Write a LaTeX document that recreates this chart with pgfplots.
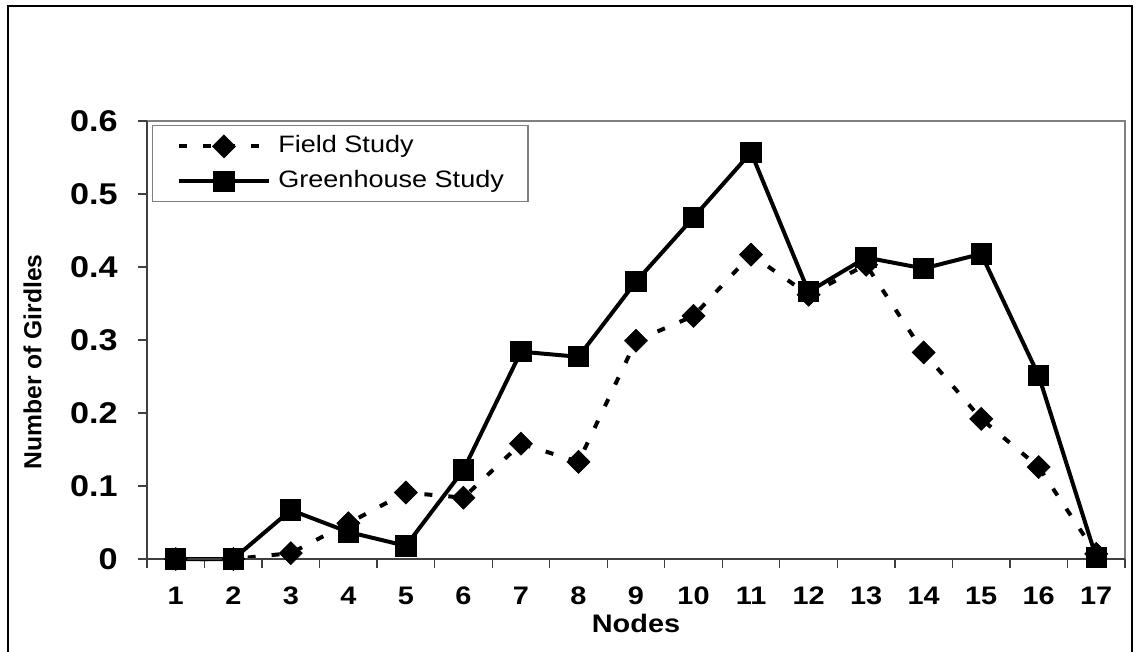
\documentclass[border=0pt]{standalone}
\usepackage{fontspec}
\setmainfont[FakeStretch=1.14]{Liberation Sans}
\newfontfamily\ylabfont{Liberation Sans}
\usepackage{pgfplots}
\pgfplotsset{compat=1.18}

\definecolor{axisgray}{HTML}{404040}
\definecolor{framegray}{HTML}{808080}

\begin{document}
\begin{tikzpicture}
  % 1 px of the 1138 x 651 reference = 0.75pt; axis box lower-left at origin
  \begin{axis}[
      at={(0pt,0pt)}, anchor=south west,
      scale only axis,
      width=733.5pt, height=328.5pt,
      xmin=0.5, xmax=17.5,
      ymin=0, ymax=0.6,
      clip=false,
      axis line style={draw=none},
      tick align=outside,
      major tick length=6.5pt,
      tick style={axisgray, line width=1pt},
      xtick pos=bottom, ytick pos=left,
      xtick={0.5,1.5,...,17.5},
      x tick label as interval,
      xticklabels={1,2,3,4,5,6,7,8,9,10,11,12,13,14,15,16,17},
      ytick={0,0.1,0.2,0.3,0.4,0.5,0.6},
      /pgf/number format/assume math mode=true,
      x tick label style={font=\bfseries\fontsize{19}{19}\selectfont, anchor=north, inner sep=0pt},
      xticklabel shift=14.5pt,
      y tick label style={font=\bfseries\fontsize{22.5}{22.5}\selectfont, anchor=east, inner sep=0pt},
      yticklabel shift=15.25pt,
      xlabel={Nodes},
      x label style={font=\bfseries\fontsize{19}{19}\selectfont, at={(axis description cs:0.5,0)}, anchor=base, yshift=-54.75pt},
      ylabel={Number of Girdles},
      y label style={font=\ylabfont\bfseries\fontsize{18.5}{18.5}\selectfont, at={(axis description cs:-0.1171,0.4498)}, anchor=center},
      legend style={
        at={(axis description cs:0.0051,0.991)}, anchor=north west,
        draw=framegray, line width=1pt,
        inner xsep=18pt, inner ysep=7pt,
        font=\fontsize{17.8}{17.8}\selectfont,
        cells={anchor=west},
        nodes={inner sep=0pt, text height=12.5pt, text depth=3.5pt},
        row sep=9.5pt, column sep=5.25pt,
      },
      legend image code/.code={
        \draw[mark repeat=2,mark phase=2,#1] plot coordinates {(0pt,0pt) (34pt,0pt) (68pt,0pt)};
      },
    ]

    \addplot[black, line width=3pt, dash pattern=on 6pt off 12pt,
      mark=square*, mark size=6.1pt,
      mark options={solid, rotate=45, line width=0.5pt}] coordinates {
      (1,0) (2,0) (3,0.008) (4,0.049) (5,0.091) (6,0.084) (7,0.158) (8,0.133)
      (9,0.299) (10,0.333) (11,0.417) (12,0.362) (13,0.403) (14,0.283)
      (15,0.192) (16,0.126) (17,0.007)
    };
    \addlegendentry{Field Study}

    \addplot[black, line width=3pt,
      mark=square*, mark size=7.6pt,
      mark options={solid, line width=0.8pt}] coordinates {
      (1,0) (2,0) (3,0.067) (4,0.037) (5,0.018) (6,0.122) (7,0.284) (8,0.277)
      (9,0.380) (10,0.468) (11,0.557) (12,0.366) (13,0.413) (14,0.398)
      (15,0.418) (16,0.251) (17,0.002)
    };
    \addlegendentry{Greenhouse Study}

    \draw[framegray, line width=1.5pt] (rel axis cs:0,1) -- (rel axis cs:1,1) -- (rel axis cs:1,0);
    \draw[axisgray, line width=1.5pt] (rel axis cs:0,1) -- (rel axis cs:0,0) -- (rel axis cs:1,0);
  \end{axis}
  % outer chart frame (bottom edge lies below the picture)
  \draw[line width=1.6pt] (-104.25pt,-80pt) -- (-104.25pt,414.75pt) -- (738.75pt,414.75pt) -- (738.75pt,-80pt);
  \pgfresetboundingbox
  \useasboundingbox (-110.25pt,-69pt) rectangle (743.25pt,419.25pt);
\end{tikzpicture}
\end{document}
